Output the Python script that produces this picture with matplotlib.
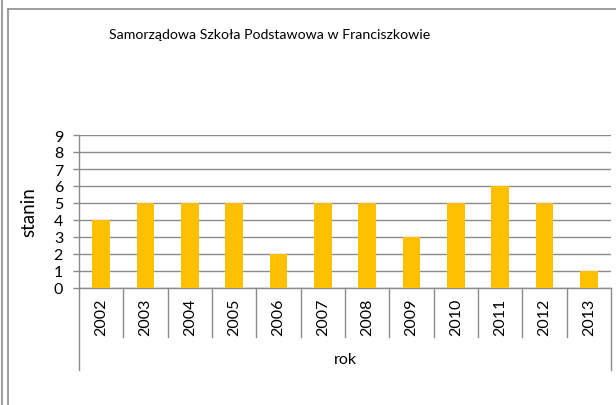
import matplotlib
matplotlib.use("Agg")
import matplotlib.pyplot as plt
from matplotlib.lines import Line2D
import matplotlib.transforms as mtransforms

years = ["2002", "2003", "2004", "2005", "2006", "2007", "2008", "2009", "2010", "2011", "2012", "2013"]
stanin = [4, 5, 5, 5, 2, 5, 5, 3, 5, 6, 5, 1]
title = "Samorządowa Szkoła Podstawowa w Franciszkowie"
xlabel = "rok"
ylabel = "stanin"

plt.rcParams['font.family'] = ['Lato', 'DejaVu Sans']

W, H = 616, 406
fig = plt.figure(figsize=(W / 100, H / 100), dpi=100)

def fx(px):
    return px / W

def fy(py):
    return 1 - py / H

# frame lines (chart border)
gray = "#8c8c8c"
fig.add_artist(Line2D([fx(1.5), fx(1.5)], [0, 1], color="#a0a0a0", lw=1.5, transform=fig.transFigure))
fig.add_artist(Line2D([fx(7.5), fx(7.5)], [0, fy(10)], color=gray, lw=1.2, transform=fig.transFigure))
fig.add_artist(Line2D([fx(7.5), 1], [fy(10), fy(10)], color=gray, lw=1.2, transform=fig.transFigure))

left, right, top, bottom = 79, 611, 136, 289
ax = fig.add_axes([fx(left), fy(bottom), fx(right - left), (bottom - top) / H])

x = list(range(len(years)))
ax.bar(x, stanin, width=0.4, color="#FFC000", zorder=3)
ax.set_xlim(-0.5, len(years) - 0.5)
ax.set_ylim(0, 9)
ax.set_yticks(range(0, 10))
ax.yaxis.grid(True, color="#8c8c8c", lw=1.0, zorder=0)
ax.set_axisbelow(True)

for s in ["top", "right"]:
    ax.spines[s].set_visible(False)
for s in ["left", "bottom"]:
    ax.spines[s].set_color(gray)
    ax.spines[s].set_linewidth(1.0)

ax.tick_params(axis="y", length=4.5, color=gray, width=1.0, pad=7, labelsize=11.5, labelcolor="black")
ax.set_xticks(x)
ax.set_xticklabels(years, rotation=90, fontsize=11.5)
ax.tick_params(axis="x", length=0, pad=7)

# category separator lines below the axis
Hax = bottom - top
trans = mtransforms.blended_transform_factory(ax.transData, ax.transAxes)
inner_bot = -(338 - bottom) / Hax
outer_bot = -(371 - bottom) / Hax
for i in range(len(years) + 1):
    xb = i - 0.5
    yb = outer_bot if i in (0, len(years)) else inner_bot
    ax.add_line(Line2D([xb, xb], [0, yb], color=gray, lw=1.0, transform=trans, clip_on=False))

ax.set_ylabel(ylabel, fontsize=13.5)
ax.yaxis.set_label_coords((37 - left) / (right - left), 0.5)

fig.text((left + right) / 2 / W, fy(360), xlabel, ha="center", va="center", fontsize=11.5)
fig.text(fx(270), fy(35), title, ha="center", va="center", fontsize=10.2)

fig.savefig("out.png", dpi=100)
